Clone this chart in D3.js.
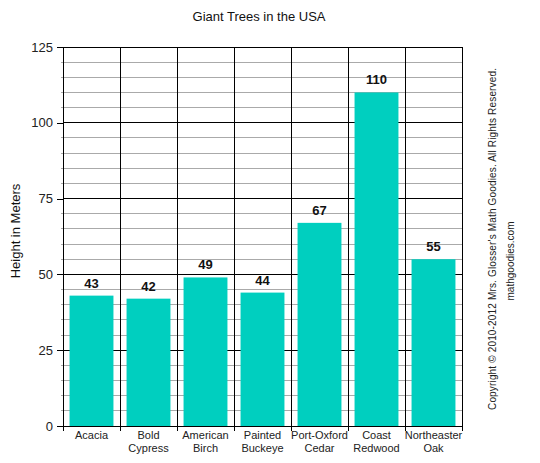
<!DOCTYPE html>
<html><head><meta charset="utf-8">
<script src="https://cdn.jsdelivr.net/npm/d3@7"></script>
<style>body{margin:0;background:#fff}svg{display:block;font-family:Arial,"Liberation Sans",sans-serif}</style>
</head><body><svg id="c" width="540" height="463"></svg>
<script>
const categories = [["Acacia"],["Bold","Cypress"],["American","Birch"],["Painted","Buckeye"],["Port-Oxford","Cedar"],["Coast","Redwood"],["Northeaster","Oak"]];
const heights = [43, 42, 49, 44, 67, 110, 55];
const yTicks = [0, 25, 50, 75, 100, 125];
const title = "Giant Trees in the USA";
const yLabel = "Height in Meters";
const copyright = "Copyright © 2010-2012 Mrs. Glosser's Math Goodies. All Rights Reserved.";
const site = "mathgoodies.com";

const svg = d3.select("#c");
const L = 63, R = 462, T = 47, B = 426;
const x = d3.scaleBand().domain(d3.range(categories.length)).range([L, R]).paddingInner(0.23).paddingOuter(0.115);
const y = d3.scaleLinear().domain([0, 125]).range([B, T]);

// minor grid
svg.append("g").selectAll("line").data(d3.range(0, 126, 5).filter(v => v % 25 !== 0)).join("line")
  .attr("x1", L - 2).attr("x2", R).attr("y1", d => y(d)).attr("y2", d => y(d))
  .attr("stroke", "#aaa").attr("stroke-width", 1).attr("shape-rendering", "crispEdges");
// major grid
svg.append("g").selectAll("line").data(yTicks).join("line")
  .attr("x1", L).attr("x2", R).attr("y1", d => y(d)).attr("y2", d => y(d))
  .attr("stroke", "#000").attr("stroke-width", 1).attr("shape-rendering", "crispEdges");
// vertical category boundaries
const step = x.step();
const bounds = d3.range(categories.length + 1).map(i => L + i * (R - L) / categories.length);
svg.append("g").selectAll("line").data(bounds).join("line")
  .attr("x1", d => d).attr("x2", d => d).attr("y1", T).attr("y2", B + 5)
  .attr("stroke", "#000").attr("stroke-width", 1).attr("shape-rendering", "crispEdges");

// bars
svg.append("g").selectAll("rect").data(heights).join("rect")
  .attr("x", (d, i) => x(i)).attr("width", x.bandwidth())
  .attr("y", d => y(d)).attr("height", d => B - y(d))
  .attr("fill", "#00cfbf");

// value labels
svg.append("g").selectAll("text").data(heights).join("text")
  .attr("x", (d, i) => x(i) + x.bandwidth() / 2).attr("y", d => y(d) - 8)
  .attr("text-anchor", "middle").attr("font-size", 13).attr("font-weight", "bold").attr("fill", "#111")
  .text(d => d);

// y axis
const yAxis = d3.axisLeft(y).tickValues(yTicks).tickSize(6).tickPadding(4);
const ga = svg.append("g").attr("transform", `translate(${L},0)`).call(yAxis);
ga.select(".domain").remove();
ga.selectAll("line").attr("stroke", "#000").attr("shape-rendering", "crispEdges");
ga.selectAll("text").attr("font-size", 13).attr("fill", "#222").attr("font-family", "Arial,'Liberation Sans',sans-serif");

// category labels
const cl = svg.append("g").selectAll("text").data(categories).join("text")
  .attr("x", (d, i) => L + (i + 0.5) * (R - L) / categories.length)
  .attr("y", 439).attr("text-anchor", "middle").attr("font-size", 11).attr("fill", "#222");
cl.selectAll("tspan").data(d => d).join("tspan")
  .attr("x", function () { return this.parentNode.getAttribute("x"); })
  .attr("dy", (d, i) => i === 0 ? 0 : 12.5).text(d => d);

// title
svg.append("text").attr("x", 259).attr("y", 21).attr("text-anchor", "middle")
  .attr("font-size", 13).attr("fill", "#111").text(title);
// y label
svg.append("text").attr("transform", "translate(20,231) rotate(-90)").attr("text-anchor", "middle")
  .attr("font-size", 13).attr("fill", "#111").text(yLabel);
// copyright
svg.append("text").attr("transform", "translate(496,239) rotate(-90)").attr("text-anchor", "middle")
  .attr("font-size", 10).attr("fill", "#222").attr("textLength", 342).attr("lengthAdjust", "spacing").text(copyright);
svg.append("text").attr("transform", "translate(514,261) rotate(-90)").attr("text-anchor", "middle")
  .attr("font-size", 10).attr("fill", "#222").text(site);
</script></body></html>
